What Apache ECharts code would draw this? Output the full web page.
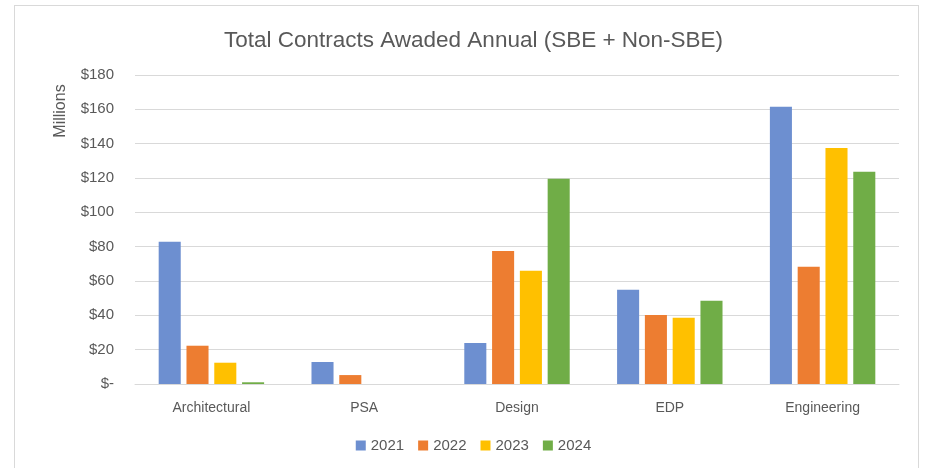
<!DOCTYPE html>
<html>
<head>
<meta charset="utf-8">
<script src="https://cdn.jsdelivr.net/npm/echarts@6/dist/echarts.min.js"></script>
<style>
html,body{margin:0;padding:0;background:#fff;}
#frame{position:absolute;left:14px;top:5px;width:905px;height:470px;border:1px solid #d9d9d9;box-sizing:border-box;}
#chart{position:absolute;left:0;top:0;width:947px;height:468px;}
</style>
</head>
<body>
<div id="frame"></div>
<div id="chart"></div>
<script>
const categories = ['Architectural', 'PSA', 'Design', 'EDP', 'Engineering'];
const seriesNames = ['2021', '2022', '2023', '2024'];
const values2021 = [82.9, 12.8, 23.9, 54.9, 161.5];
const values2022 = [22.3, 5.2, 77.5, 40.2, 68.3];
const values2023 = [12.4, 0, 66.0, 38.6, 137.5];
const values2024 = [1.0, 0, 119.6, 48.5, 123.7];
const colors = ['#6d8fd0', '#ed7d31', '#ffc000', '#70ad47'];
const yMin = 0, yMax = 180, yStep = 20;
const yAxisTitle = 'Millions';

const chart = echarts.init(document.getElementById('chart'), null, {renderer: 'canvas'});
const allValues = [values2021, values2022, values2023, values2024];
const narrow = '"Liberation Sans Narrow", "Liberation Sans", Arial, sans-serif';
const sans = '"Liberation Sans", Arial, sans-serif';
chart.setOption({
  animation: false,
  title: {
    text: 'Total Contracts Awaded Annual (SBE + Non-SBE)',
    left: 'center', top: 24,
    textStyle: {fontFamily: narrow, fontSize: 22.5, fontWeight: 'normal', color: '#595959'}
  },
  legend: {
    data: seriesNames, bottom: 10, left: 'center',
    itemWidth: 10, itemHeight: 10, itemGap: 14, icon: 'rect',
    textStyle: {fontFamily: sans, fontSize: 15, color: '#595959'}
  },
  graphic: [{
    type: 'text', x: 61, y: 111, rotation: Math.PI / 2,
    style: {text: yAxisTitle, font: '16px ' + sans, fill: '#595959', align: 'center', verticalAlign: 'middle'}
  }],
  grid: {left: 135, right: 48, top: 75, bottom: 84},
  xAxis: {
    type: 'category', data: categories,
    axisLine: {show: true, lineStyle: {color: '#d9d9d9', width: 1}},
    axisTick: {show: false},
    axisLabel: {fontFamily: narrow, fontSize: 14, color: '#595959', margin: 17}
  },
  yAxis: {
    type: 'value', min: yMin, max: yMax, interval: yStep,
    axisLine: {show: false}, axisTick: {show: false},
    splitLine: {lineStyle: {color: '#d9d9d9', width: 1}},
    axisLabel: {
      fontFamily: sans, fontSize: 15, color: '#595959', margin: 21,
      formatter: v => v === 0 ? '$-' : '$' + v
    }
  },
  series: seriesNames.map((n, i) => ({
    name: n, type: 'bar', data: allValues[i],
    barGap: '26%', barCategoryGap: '31%',
    itemStyle: {color: colors[i]}
  }))
});
</script>
</body>
</html>
